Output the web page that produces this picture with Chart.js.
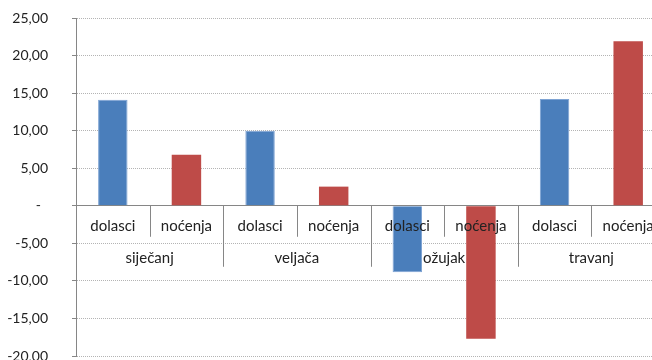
<!DOCTYPE html>
<html>
<head>
<meta charset="utf-8">
<script src="https://cdn.jsdelivr.net/npm/chart.js@4/dist/chart.umd.min.js"></script>
<style>
  html, body { margin: 0; padding: 0; background: #fff; overflow: hidden; }
  #wrap { width: 652px; height: 360px; overflow: hidden; }
</style>
</head>
<body>
<div id="wrap"><canvas id="chart" width="668" height="360"></canvas></div>
<script>
const months = ["siječanj", "veljača", "ožujak", "travanj"];
const seriesNames = ["dolasci", "noćenja"];
const dolasci = [14.1, 10.0, -8.85, 14.2];
const nocenja = [6.8, 2.55, -17.7, 21.9];
const yTicks = [25, 20, 15, 10, 5, 0, -5, -10, -15, -20];

const labels = [];
const dolasciData = [];
const nocenjaData = [];
months.forEach((m, i) => {
  labels.push(seriesNames[0], seriesNames[1]);
  dolasciData.push(dolasci[i], null);
  nocenjaData.push(null, nocenja[i]);
});

const FONT = "Lato";
const TEXT = "#222";
const AXIS = "#868686";

// month row + separators under the category labels
const groupLabels = {
  id: "groupLabels",
  afterDraw(chart) {
    const ctx = chart.ctx;
    const x = chart.scales.x;
    const y0 = chart.scales.y.getPixelForValue(0);
    const step = x.getPixelForValue(1) - x.getPixelForValue(0);
    const edge = i => x.getPixelForValue(i) - step / 2;
    ctx.save();
    ctx.strokeStyle = AXIS;
    ctx.lineWidth = 1;
    for (let i = 0; i <= labels.length; i++) {
      const px = Math.round(edge(i)) + 0.5;
      const len = i % 2 === 0 ? 61 : 31;
      ctx.beginPath();
      ctx.moveTo(px, y0);
      ctx.lineTo(px, y0 + len);
      ctx.stroke();
    }
    ctx.fillStyle = TEXT;
    ctx.font = "15px " + FONT;
    ctx.textAlign = "center";
    ctx.textBaseline = "middle";
    months.forEach((m, i) => {
      const cx = (edge(i * 2) + edge(i * 2 + 2)) / 2;
      ctx.fillText(m, cx, y0 + 52);
    });
    ctx.restore();
  }
};

new Chart(document.getElementById("chart"), {
  type: "bar",
  data: {
    labels: labels,
    datasets: [
      {
        label: seriesNames[0],
        data: dolasciData,
        backgroundColor: "#4a7ebb",
        borderColor: "#7ea3d3",
        borderWidth: 1,
        skipNull: true
      },
      {
        label: seriesNames[1],
        data: nocenjaData,
        backgroundColor: "#be4b48",
        borderWidth: 0,
        skipNull: true
      }
    ]
  },
  options: {
    responsive: false,
    animation: false,
    layout: { padding: { top: 18, right: 3, bottom: 4, left: 0 } },
    datasets: { bar: { barPercentage: 0.4, categoryPercentage: 1 } },
    plugins: { legend: { display: false }, tooltip: { enabled: false } },
    scales: {
      x: {
        position: { y: 0 },
        grid: { display: false, drawTicks: false },
        border: { display: true, color: AXIS, width: 1 },
        ticks: {
          z: 1,
          color: TEXT,
          font: { family: FONT, size: 15 },
          padding: 11,
          maxRotation: 0,
          autoSkip: false
        },
        afterFit(scale) { scale.height = 0; }
      },
      y: {
        min: -20,
        max: 25,
        afterBuildTicks(scale) { scale.ticks = yTicks.map(v => ({ value: v })); },
        grid: {
          color: "#b4b4b4",
          lineWidth: 1,
          tickLength: 4,
          tickColor: AXIS,
          tickBorderDash: []
        },
        border: { display: true, color: AXIS, width: 1, dash: [1, 1] },
        ticks: {
          color: TEXT,
          font: { family: FONT, size: 14 },
          padding: 24,
          callback: v => v === 0 ? "-  " : v.toFixed(2).replace(".", ",")
        },
        afterFit(scale) {
          scale.width = 76;
          scale.paddingTop = 0;
          scale.paddingBottom = 0;
        }
      }
    }
  },
  plugins: [groupLabels]
});
</script>
</body>
</html>
